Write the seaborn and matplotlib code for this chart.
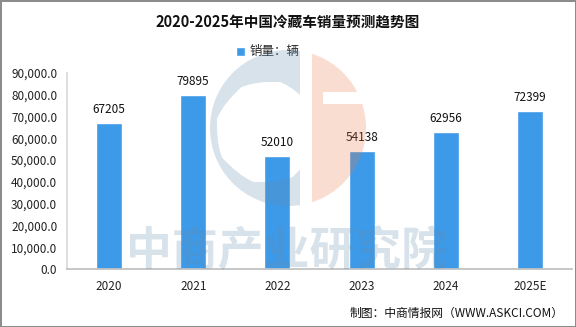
import matplotlib
matplotlib.use("Agg")
import matplotlib.pyplot as plt
import matplotlib.patches as mpatches
import numpy as np
import pandas as pd
import seaborn as sns

# data
years = ["2020", "2021", "2022", "2023", "2024", "2025E"]
sales = [67205, 79895, 52010, 54138, 62956, 72399]
y_ticks = [0, 10000, 20000, 30000, 40000, 50000, 60000, 70000, 80000, 90000]

title = "2020-2025年中国冷藏车销量预测趋势图"
legend_label = "销量：辆"
source = "制图：中商情报网（WWW.ASKCI.COM）"
watermark = "中商产业研究院"

df = pd.DataFrame({"年份": years, "销量": sales})

sns.set_theme(style="white")
plt.rcParams["font.family"] = ["Noto Sans CJK SC", "DejaVu Sans"]

W, H = 576, 327
fig = plt.figure(figsize=(W / 100, H / 100), dpi=100)
fig.patch.set_facecolor("white")
fig.patch.set_edgecolor("#8c8c8c")
fig.patch.set_linewidth(2)

ax = fig.add_axes([67 / W, 1 - 269 / H, (572 - 67) / W, (269 - 73) / H])
bar_color = "#3d9ae8"
sns.barplot(data=df, x="年份", y="销量", color=bar_color, width=0.31,
            saturation=1, label=legend_label, ax=ax)

ax.set_xlim(-0.5, 5.5)
ax.set_ylim(0, 90000)
ax.set_yticks(y_ticks)
ax.set_yticklabels([f"{v:,.1f}" for v in y_ticks], fontsize=8.5, color="#222222")
ax.set_xlabel("")
ax.set_ylabel("")
ax.tick_params(axis="x", which="major", length=0, labelsize=8.5, labelcolor="#222222", pad=8)
ax.set_xticks(np.arange(-0.5, 6, 1), minor=True)
ax.tick_params(axis="x", which="minor", length=4, color="#c8c8c8", direction="out")
ax.tick_params(axis="y", length=4, color="#d4d4d4", direction="out", pad=3)

for s in ["top", "right"]:
    ax.spines[s].set_visible(False)
ax.spines["left"].set_color("#d9d9d9")
ax.spines["bottom"].set_color("#c0c0c0")

for i, v in enumerate(sales):
    ax.annotate(str(v), (i, v), xytext=(0, 5), textcoords="offset points",
                ha="center", va="bottom", fontsize=8.5, color="#111111")

leg = ax.legend(loc="center", bbox_to_anchor=(268 / W, 1 - 52 / H),
                bbox_transform=fig.transFigure, frameon=False, fontsize=9,
                handlelength=0.7, handleheight=0.7, handletextpad=0.4)

fig.text(0.5, 1 - 22 / H, title, ha="center", va="center",
         fontsize=10.5, fontweight="bold", color="#111111")
fig.text(564 / W, 1 - 313 / H, source, ha="right", va="center",
         fontsize=8.5, color="#111111")

# watermark overlay in pixel coords
ov = fig.add_axes([0, 0, 1, 1], zorder=5)
ov.set_xlim(0, W)
ov.set_ylim(H, 0)
ov.axis("off")
ov.patch.set_alpha(0)

blue_wm = (0.38, 0.55, 0.68, 0.25)
salmon_wm = (0.9, 0.47, 0.27, 0.25)

outer = mpatches.Path.circle((288, 128), 78)
inner = mpatches.Path.circle((267, 132), 50)
ring = mpatches.Path(np.concatenate([outer.vertices, inner.vertices[::-1]]),
                     np.concatenate([outer.codes, inner.codes]))
c_patch = mpatches.PathPatch(ring, facecolor=blue_wm, edgecolor="none")
ov.add_patch(c_patch)
clip_c = mpatches.Rectangle((200, 40), 100, 180, transform=ov.transData)
c_patch.set_clip_path(clip_c)

for (x0, y0, w, h) in [(312, 40, 11, 180), (323, 40, 60, 52), (323, 104, 60, 116)]:
    p = mpatches.Circle((288, 128), 78, facecolor=salmon_wm, edgecolor="none")
    ov.add_patch(p)
    p.set_clip_path(mpatches.Rectangle((x0, y0), w, h, transform=ov.transData))

ov.text(287, 252, watermark, ha="center", va="center", fontsize=33,
        fontweight="bold", color=blue_wm)

fig.savefig("out.png", dpi=100)
